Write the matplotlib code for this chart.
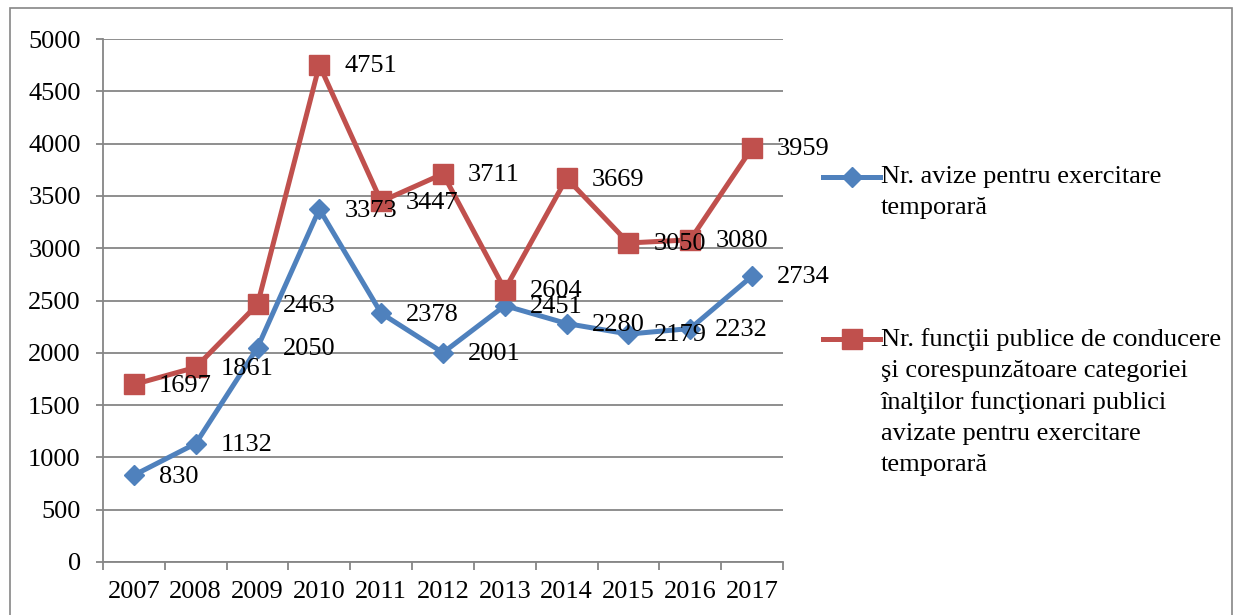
import matplotlib.pyplot as plt
from matplotlib.lines import Line2D
from matplotlib.patches import Rectangle
import numpy as np

plt.rcParams['font.family'] = ['Liberation Serif', 'DejaVu Serif']

years = ['2007', '2008', '2009', '2010', '2011', '2012', '2013', '2014', '2015', '2016', '2017']
avize = [830, 1132, 2050, 3373, 2378, 2001, 2451, 2280, 2179, 2232, 2734]
functii = [1697, 1861, 2463, 4751, 3447, 3711, 2604, 3669, 3050, 3080, 3959]

label_avize = 'Nr. avize pentru exercitare\ntemporară'
label_functii = ('Nr. funcţii publice de conducere\nşi corespunzătoare categoriei\n'
                 'înalţilor funcţionari publici\navizate pentru exercitare\ntemporară')

blue = '#4F81BD'
red = '#C0504D'
grid_c = '#868686'
fs = 19

W, H = 1239, 615
fig = plt.figure(figsize=(W / 100, H / 100), dpi=100)
ax = fig.add_axes([103 / W, (H - 562) / H, 680 / W, 523 / H])

x = np.arange(len(years))
ax.plot(x, avize, '-D', color=blue, lw=3.6, ms=10, zorder=3)
ax.plot(x, functii, '-s', color=red, lw=3.6, ms=14, zorder=3)

for xi, v in zip(x, avize):
    ax.annotate(str(v), (xi, v), xytext=(18, -1), textcoords='offset points',
                ha='left', va='center', fontsize=fs, zorder=4)
for xi, v in zip(x, functii):
    ax.annotate(str(v), (xi, v), xytext=(18, -1), textcoords='offset points',
                ha='left', va='center', fontsize=fs, zorder=4)

ax.set_xlim(-0.5, len(years) - 0.5)
ax.set_ylim(0, 5000)
ax.set_yticks(np.arange(0, 5001, 500))
ax.yaxis.grid(True, color=grid_c, lw=1.3)
ax.set_axisbelow(True)

ax.set_xticks(np.arange(-0.5, len(years)), [''] * (len(years) + 1))
ax.set_xticks(x, years, minor=True)
ax.tick_params(axis='x', which='major', length=6, width=1.3, color=grid_c, direction='out')
ax.tick_params(axis='x', which='minor', length=0, pad=13.5, labelsize=fs)
ax.tick_params(axis='y', length=5, width=1.3, color=grid_c, labelsize=fs, pad=11)

for s in ['top', 'right']:
    ax.spines[s].set_visible(False)
for s in ['left', 'bottom']:
    ax.spines[s].set_color(grid_c)
    ax.spines[s].set_linewidth(1.3)

# legend drawn by hand, Excel style (handle aligned with first text line)
for yy, col, mk, ms, lab in [(177, blue, 'D', 10, label_avize),
                             (339, red, 's', 14, label_functii)]:
    fy = 1 - yy / H
    fig.add_artist(Line2D([823 / W, 880 / W], [fy, fy], color=col, lw=3.6,
                          transform=fig.transFigure))
    fig.add_artist(Line2D([851.5 / W], [fy], marker=mk, ms=ms, color=col,
                          transform=fig.transFigure))
    fig.text(881 / W, fy + 11 / H, lab, fontsize=fs, ha='left', va='top',
             linespacing=1.52)

fig.add_artist(Rectangle((10 / W, -0.01), 1222 / W, 1 - 8 / H + 0.01, fill=False,
                         edgecolor=grid_c, lw=1.2, transform=fig.transFigure))

fig.savefig('out.png', dpi=100)
